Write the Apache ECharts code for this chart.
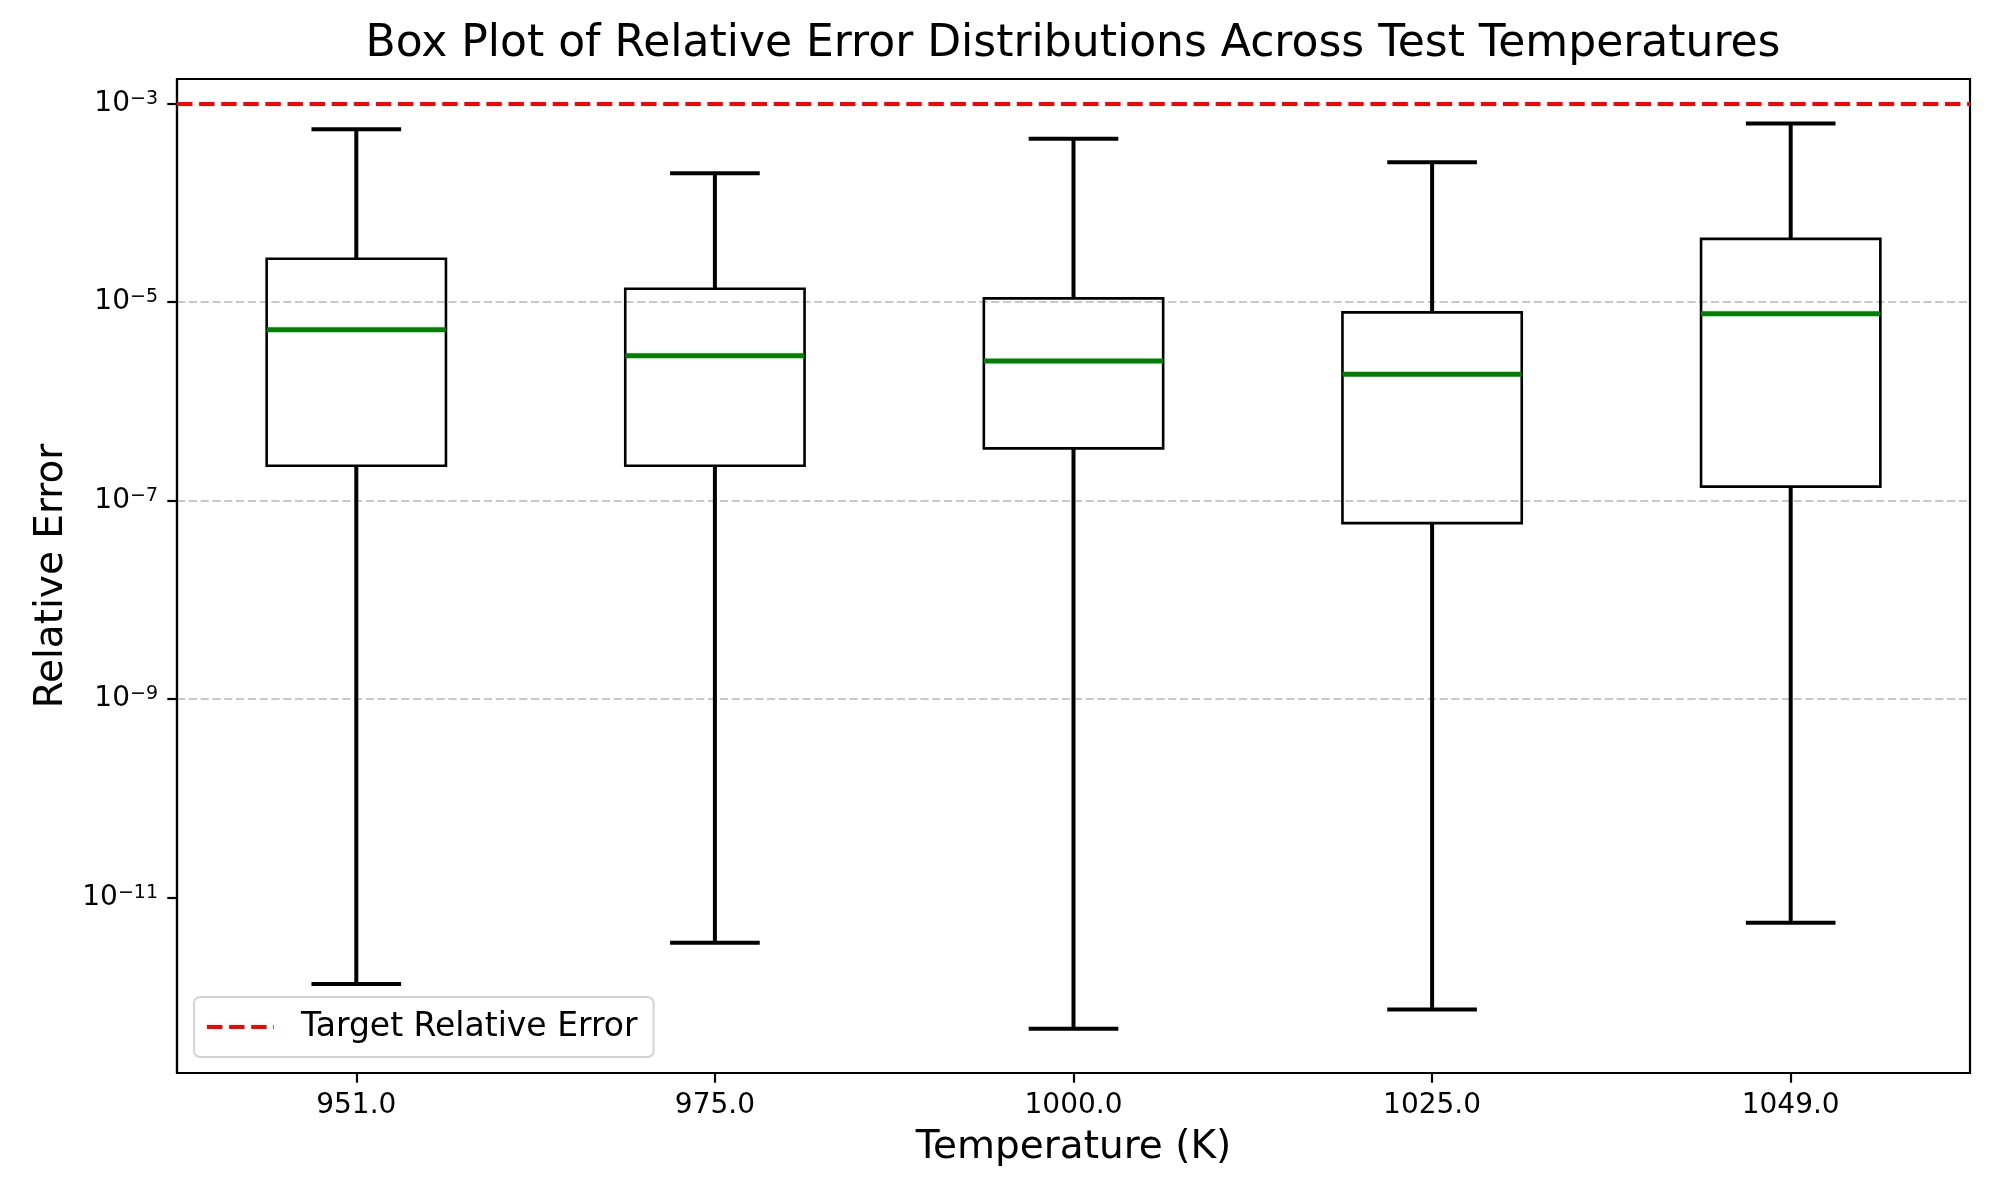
<!DOCTYPE html>
<html>
<head>
<meta charset="utf-8">
<title>Relative Error Box Plot</title>
<script src="https://cdn.jsdelivr.net/npm/echarts@6/dist/echarts.min.js"></script>
<style>
  html, body { margin: 0; padding: 0; background: #fff; }
  #chart { width: 2000px; height: 1200px; }
</style>
</head>
<body>
<div id="chart"></div>
<script>
var FONT = 'DejaVu Sans';

// temperatures (K)
var temperatures = ['951.0', '975.0', '1000.0', '1025.0', '1049.0'];

// box plot statistics per temperature
var whiskerLow  = [1.34e-12, 3.50e-12, 4.74e-13, 7.40e-13, 5.55e-12];
var quartile1   = [2.24e-7,  2.24e-7,  3.35e-7,  5.92e-8,  1.38e-7];
var medians     = [5.27e-6,  2.87e-6,  2.55e-6,  1.87e-6,  7.64e-6];
var quartile3   = [2.73e-5,  1.36e-5,  1.09e-5,  7.87e-6,  4.33e-5];
var whiskerHigh = [5.53e-4,  1.99e-4,  4.43e-4,  2.56e-4,  6.32e-4];

var targetError = 1e-3;

// y range of the plot and the decades that get a tick
var yLow = 1.70e-13;
var yHigh = 1.77e-3;
var tickPowers = [-11, -9, -7, -5, -3];

// log10 axis; shifted by one decade so the nice (even) ticks fall on odd powers of ten
function toAxis(v) { return Math.log10(v) + 1; }
function fromAxisExp(a) { return Math.round(a - 1); }

var tickValues = tickPowers.map(function (p) { return p + 1; });

var boxData = temperatures.map(function (t, i) {
    return [i, toAxis(whiskerLow[i]), toAxis(quartile1[i]), toAxis(medians[i]),
            toAxis(quartile3[i]), toAxis(whiskerHigh[i])];
});

function renderBox(params, api) {
    var x = api.value(0);
    var lo = api.coord([x, api.value(1)]);
    var q1 = api.coord([x, api.value(2)]);
    var md = api.coord([x, api.value(3)]);
    var q3 = api.coord([x, api.value(4)]);
    var hi = api.coord([x, api.value(5)]);
    var band = api.size([1, 0])[0];
    var bw = band * 0.25;   // half box width
    var cw = band * 0.125;  // half cap width
    var cx = lo[0];
    var black = { stroke: '#000', lineWidth: 4, fill: null };
    return {
        type: 'group',
        children: [
            { type: 'line', shape: { x1: cx, y1: q1[1], x2: cx, y2: lo[1] }, style: black },
            { type: 'line', shape: { x1: cx, y1: q3[1], x2: cx, y2: hi[1] }, style: black },
            { type: 'line', shape: { x1: cx - cw, y1: lo[1], x2: cx + cw, y2: lo[1] }, style: black },
            { type: 'line', shape: { x1: cx - cw, y1: hi[1], x2: cx + cw, y2: hi[1] }, style: black },
            { type: 'rect', shape: { x: cx - bw, y: q3[1], width: bw * 2, height: q1[1] - q3[1] },
              style: { stroke: '#000', lineWidth: 2.6, fill: null } },
            { type: 'line', shape: { x1: cx - bw, y1: md[1], x2: cx + bw, y2: md[1] },
              style: { stroke: '#008000', lineWidth: 5, fill: null } }
        ]
    };
}

var chart = echarts.init(document.getElementById('chart'));

chart.setOption({
    backgroundColor: '#fff',
    animation: false,
    title: {
        text: 'Box Plot of Relative Error Distributions Across Test Temperatures',
        left: 1073,
        top: 23,
        padding: 0,
        textAlign: 'center',
        textStyle: { fontFamily: FONT, fontSize: 44, fontWeight: 'normal', color: '#000' }
    },
    legend: {
        data: [{
            name: 'Target Relative Error',
            icon: 'path://M0,0h15.4v4.2h-15.4z M22.1,0h15.4v4.2h-15.4z M44.2,0h15.4v4.2h-15.4z M66.3,0h0.7v4.2h-0.7z'
        }],
        left: 194,
        top: 997,
        orient: 'vertical',
        padding: [12, 16, 12, 13],
        itemWidth: 67,
        itemHeight: 4.2,
        backgroundColor: 'rgba(255,255,255,0.8)',
        borderColor: '#d4d4d4',
        borderWidth: 2,
        borderRadius: 6,
        itemStyle: { color: '#ff0000' },
        textStyle: { fontFamily: FONT, fontSize: 33, color: '#000', lineHeight: 36, padding: [0, 0, 0, 22] }
    },
    grid: {
        left: 177,
        right: 30,
        top: 79,
        bottom: 127,
        show: true,
        borderColor: '#000',
        borderWidth: 2.2,
        containLabel: false
    },
    xAxis: {
        type: 'category',
        data: temperatures,
        boundaryGap: true,
        name: 'Temperature (K)',
        nameLocation: 'middle',
        nameGap: 55,
        nameTextStyle: { fontFamily: FONT, fontSize: 39, color: '#000' },
        axisLine: { show: true, lineStyle: { color: '#000', width: 2.2 } },
        axisTick: { show: true, alignWithLabel: true, length: 9.7, lineStyle: { color: '#000', width: 2.2 } },
        axisLabel: { fontFamily: FONT, fontSize: 28, color: '#000', margin: 19 },
        splitLine: { show: false }
    },
    yAxis: {
        type: 'value',
        min: toAxis(yLow),
        max: toAxis(yHigh),
        splitNumber: 5,
        name: 'Relative Error',
        nameLocation: 'middle',
        nameGap: 106,
        nameTextStyle: { fontFamily: FONT, fontSize: 39, color: '#000' },
        axisLine: { show: true, lineStyle: { color: '#000', width: 2.2 } },
        axisTick: { show: true, customValues: tickValues, length: 9.7, lineStyle: { color: '#000', width: 2.2 } },
        axisLabel: {
            margin: 19,
            customValues: tickValues,
            formatter: function (v) {
                var e = fromAxisExp(v);
                return '{b|10}{s|' + (e < 0 ? '\u2212' : '') + Math.abs(e) + '}';
            },
            rich: {
                b: { fontFamily: FONT, fontSize: 28, color: '#000' },
                s: { fontFamily: FONT, fontSize: 19, color: '#000', verticalAlign: 'top' }
            }
        },
        splitLine: {
            show: true,
            showMinLine: false,
            showMaxLine: false,
            lineStyle: { color: '#c8c8c8', width: 2, type: [8.2, 3.6] }
        }
    },
    series: [
        {
            type: 'custom',
            renderItem: renderBox,
            data: boxData,
            encode: { x: 0, y: [1, 2, 3, 4, 5] },
            z: 3
        },
        {
            name: 'Target Relative Error',
            type: 'line',
            data: [],
            symbol: 'none',
            lineStyle: { color: '#ff0000', width: 4.2, type: [15.4, 6.7] },
            itemStyle: { color: '#ff0000' },
            markLine: {
                silent: true,
                symbol: 'none',
                label: { show: false },
                lineStyle: { color: '#ff0000', width: 4.2, type: [15.4, 6.7] },
                data: [{ yAxis: toAxis(targetError) }]
            },
            z: 4
        }
    ]
});
</script>
</body>
</html>
